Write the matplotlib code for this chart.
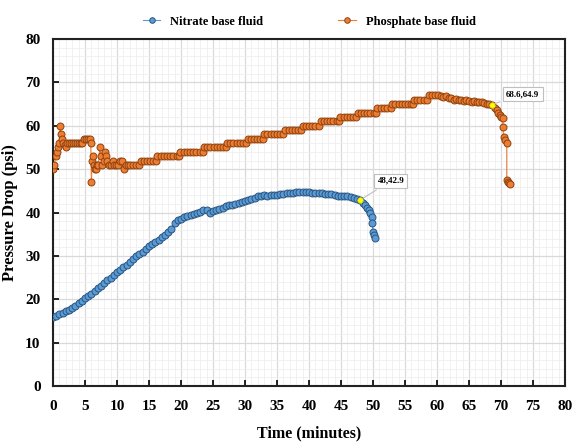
import matplotlib
matplotlib.use("Agg")
import matplotlib.pyplot as plt
from matplotlib.ticker import MultipleLocator

plt.rcParams['font.family'] = ['Liberation Serif', 'DejaVu Serif']
plt.rcParams['font.weight'] = 'bold'

# Nitrate base fluid (time in minutes, pressure drop in psi)
nitrate_t = [0.0, 0.5, 1.0, 1.5, 2.0, 2.5, 3.0, 3.5, 4.0, 4.5, 5.0, 5.5, 6.0, 6.5,
             7.0, 7.5, 8.0, 8.5, 9.0, 9.5, 10.0, 10.5, 11.0, 11.5, 12.0, 12.5,
             13.0, 13.5, 14.0, 14.5, 15.0, 15.5, 16.0, 16.5, 17.0, 17.5, 18.0,
             18.5, 19.0, 19.5, 20.0, 20.5, 21.0, 21.5, 22.0, 22.5, 23.0, 23.5,
             24.0, 24.5, 25.0, 25.5, 26.0, 26.5, 27.0, 27.5, 28.0, 28.5, 29.0,
             29.5, 30.0, 30.5, 31.0, 31.5, 32.0, 32.5, 33.0, 33.5, 34.0, 34.5,
             35.0, 35.5, 36.0, 36.5, 37.0, 37.5, 38.0, 38.5, 39.0, 39.5, 40.0,
             40.5, 41.0, 41.5, 42.0, 42.5, 43.0, 43.5, 44.0, 44.5, 45.0, 45.5,
             46.0, 46.5, 47.0, 47.5, 48.0, 48.4, 48.75, 49.0, 49.3, 49.6, 49.8,
             49.9, 50.0, 50.2, 50.3]
nitrate_p = [16.0, 16.2, 16.5, 16.8, 17.2, 17.5, 18.0, 18.4, 19.1, 19.7, 20.2, 20.8,
             21.3, 21.9, 22.5, 23.1, 23.7, 24.4, 25.0, 25.6, 26.3, 26.8, 27.4,
             28.0, 28.6, 29.3, 30.0, 30.5, 31.0, 31.6, 32.2, 32.7, 33.2, 33.7,
             34.3, 34.9, 35.5, 36.2, 37.5, 38.2, 38.6, 38.9, 39.2, 39.4, 39.7,
             40.0, 40.2, 40.5, 40.6, 40.0, 40.3, 40.6, 40.8, 41.1, 41.5, 41.7,
             41.8, 42.0, 42.2, 42.5, 42.6, 42.9, 43.2, 43.4, 43.8, 43.9, 44.0,
             43.9, 44.0, 44.1, 44.0, 44.2, 44.3, 44.4, 44.5, 44.6, 44.8, 44.7,
             44.8, 44.7, 44.8, 44.6, 44.6, 44.4, 44.4, 44.3, 44.2, 44.2, 44.0,
             43.9, 43.9, 43.7, 43.7, 43.5, 43.3, 43.1, 42.9, 42.2, 41.7, 41.0,
             40.7, 40.0, 39.0, 37.7, 35.6, 34.8, 34.2]

# Phosphate base fluid
phosphate_t = [0.0, 0.2, 0.4, 0.6, 0.8, 1.0, 1.1, 1.25, 1.45, 1.6, 1.8, 2.0, 2.2,
               2.5, 2.8, 3.1, 3.4, 3.7, 4.0, 4.3, 4.6, 4.9, 5.2, 5.5, 5.8, 5.9,
               6.0, 6.1, 6.2, 6.35, 6.5, 6.7, 6.9, 7.1, 7.3, 7.5, 7.7, 7.9, 8.1,
               8.3, 8.5, 8.7, 9.0, 9.3, 9.6, 9.9, 10.2, 10.5, 10.8, 11.1, 11.4,
               11.7, 12.0, 12.5, 13.0, 13.5,
               13.7, 14.2, 14.7, 15.2, 15.7, 16.1,
               16.3, 16.8, 17.3, 17.8, 18.3, 18.8, 19.3, 19.7,
               19.9, 20.4, 20.9, 21.4, 21.9, 22.4, 22.9, 23.4,
               23.6, 24.1, 24.6, 25.1, 25.6, 26.1, 26.6, 27.0,
               27.2, 27.7, 28.2, 28.7, 29.2, 29.7, 30.2,
               30.4, 30.9, 31.4, 31.9, 32.4, 32.8,
               33.0, 33.5, 34.0, 34.5, 35.0, 35.5, 36.0,
               36.3, 36.8, 37.3, 37.8, 38.3, 38.8,
               39.0, 39.5, 40.0, 40.5, 41.0, 41.5,
               41.8, 42.3, 42.8, 43.3, 43.8, 44.3, 44.7,
               44.9, 45.4, 45.9, 46.4, 46.9, 47.4,
               47.6, 48.1, 48.6, 49.1, 49.6, 50.1, 50.5,
               50.7, 51.2, 51.7, 52.2, 52.8,
               53.0, 53.5, 54.0, 54.5, 55.0, 55.5, 56.0, 56.2,
               56.4, 56.9, 57.4, 57.9, 58.4,
               58.7, 59.2, 59.7, 60.2,
               60.6, 61.0, 61.4, 61.8, 62.2, 62.6, 63.0, 63.4, 63.8, 64.2, 64.6,
               65.0, 65.4, 65.8, 66.2, 66.6, 67.0, 67.4, 67.8, 68.2, 68.6, 69.0,
               69.3, 69.6, 69.8, 70.0, 70.3, 70.3, 70.4, 70.6, 70.9, 70.9, 71.1,
               71.3, 71.4]
phosphate_p = [50, 51, 53, 54, 55, 56, 60, 58, 57, 56, 55.5, 55, 56,
               56, 56, 56, 56, 56, 56, 56, 56, 57, 57, 57, 57, 56,
               47, 52, 53, 51, 50, 50, 51, 51, 55, 53, 51, 52, 54,
               53, 52, 51, 51, 52, 51, 51, 51, 52, 52, 50, 51,
               51, 51, 51, 51, 51,
               52, 52, 52, 52, 52, 52,
               53, 53, 53, 53, 53, 53, 53, 53,
               54, 54, 54, 54, 54, 54, 54, 54,
               55, 55, 55, 55, 55, 55, 55, 55,
               56, 56, 56, 56, 56, 56, 56,
               57, 57, 57, 57, 57, 57,
               58, 58, 58, 58, 58, 58, 58,
               59, 59, 59, 59, 59, 59,
               60, 60, 60, 60, 60, 60,
               61, 61, 61, 61, 61, 61, 61,
               62, 62, 62, 62, 62, 62,
               63, 63, 63, 63, 63, 63, 63,
               64, 64, 64, 64, 64,
               65, 65, 65, 65, 65, 65, 65, 65,
               66, 66, 66, 66, 66,
               67, 67, 67, 67,
               66.8, 66.6, 66.8, 66.4, 66.5, 66.0, 66.2, 65.9, 66.0, 65.8, 65.9,
               65.8, 65.6, 65.7, 65.5, 65.4, 65.4, 65.2, 65.1, 65.0, 64.9, 64.2,
               63.6, 63.0, 62.5, 62.0, 61.7, 59.8, 57.5, 56.7, 56.1, 47.5, 47.0,
               46.7, 46.5]

highlights = [(48.0, 42.9, "48,42.9", (52.8, 47.3)),
              (68.6, 64.9, "68.6,64.9", (73.4, 67.3))]

fig = plt.figure(figsize=(5.73, 4.44), dpi=100)
ax = fig.add_axes([0.0925, 0.1306, 0.8935, 0.7814])

ax.plot(nitrate_t, nitrate_p, color='#5B9BD5', lw=0.8, marker='o', ms=5,
        mfc='#5B9BD5', mec='#2A5580', mew=0.7, label='Nitrate base fluid', zorder=3)
ax.plot(phosphate_t, phosphate_p, color='#ED7D31', lw=0.8, marker='o', ms=5,
        mfc='#ED7D31', mec='#8E4210', mew=0.7, label='Phosphate base fluid', zorder=3)

for x, y, txt, pos in highlights:
    ax.plot([x], [y], 'o', ms=4, mfc='#FFFF00', mec='#C8C800', mew=0.5, zorder=5)
    ax.annotate(txt, xy=(x, y), xytext=pos, fontsize=6.5, fontweight='bold',
                ha='center', va='center', zorder=6,
                bbox=dict(boxstyle='square,pad=0.35', fc='white', ec='#bfbfbf', lw=0.8),
                arrowprops=dict(arrowstyle='-', color='#bfbfbf', lw=0.8))

ax.set_xlim(0, 80)
ax.set_ylim(0, 80)
ax.xaxis.set_major_locator(MultipleLocator(5))
ax.yaxis.set_major_locator(MultipleLocator(10))
ax.xaxis.set_minor_locator(MultipleLocator(1))
ax.yaxis.set_minor_locator(MultipleLocator(2))
ax.grid(which='major', color='#d9d9d9', lw=0.9)
ax.grid(which='minor', color='#efefef', lw=0.6)
ax.set_axisbelow(True)
ax.tick_params(which='major', direction='in', length=4, width=1.2, labelsize=11)
ax.tick_params(axis='x', pad=10)
ax.tick_params(axis='y', pad=9)
ax.tick_params(which='minor', length=0)
for s in ax.spines.values():
    s.set_linewidth(1.5)
    s.set_color('#222222')

ax.set_xlabel('Time (minutes)', fontsize=11.5, fontweight='bold', labelpad=9)
ax.set_ylabel('Pressure Drop (psi)', fontsize=12, fontweight='bold', labelpad=5)

fig.legend(loc='upper center', bbox_to_anchor=(0.54, 0.99), ncol=2, frameon=False,
           fontsize=9, handlelength=1.4, columnspacing=6, markerscale=0.8)

fig.savefig('out.png', dpi=100)
